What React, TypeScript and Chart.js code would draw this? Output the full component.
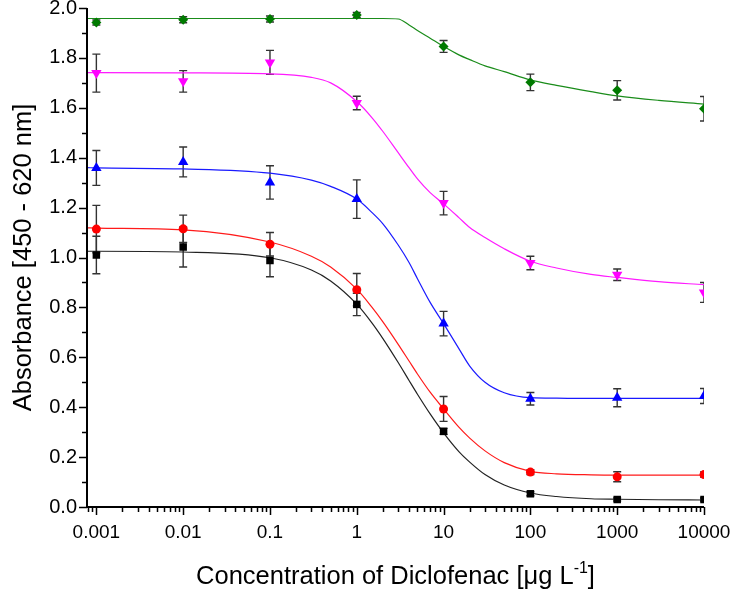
import React, { useEffect, useRef } from 'react';
import { Chart, registerables } from 'chart.js';

Chart.register(...registerables);

// ---------- data ----------
const concentrations = [0.001, 0.01, 0.1, 1, 10, 100, 1000, 10000];

const blackValues = [1.01, 1.042, 0.988, 0.812, 0.303, 0.053, 0.03, 0.03];
const blackErrors = [0.075, 0.08, 0.065, 0.045, 0.012, 0.008, 0.006, 0.006];
const redValues = [1.114, 1.115, 1.053, 0.871, 0.393, 0.14, 0.121, 0.13];
const redErrors = [0.095, 0.055, 0.047, 0.065, 0.05, 0.01, 0.02, 0.01];
const blueValues = [1.359, 1.383, 1.301, 1.234, 0.735, 0.434, 0.438, 0.445];
const blueErrors = [0.07, 0.06, 0.067, 0.077, 0.049, 0.025, 0.036, 0.03];
const magentaValues = [1.739, 1.706, 1.782, 1.619, 1.218, 0.978, 0.931, 0.86];
const magentaErrors = [0.076, 0.043, 0.048, 0.027, 0.047, 0.027, 0.023, 0.04];
const greenValues = [1.942, 1.953, 1.956, 1.972, 1.846, 1.702, 1.67, 1.596];
const greenErrors = [0.01, 0.012, 0.012, 0.01, 0.024, 0.033, 0.039, 0.049];

// fitted curves
const fitX = [0.00078, 0.001, 0.01, 0.1, 0.3, 0.5, 1, 1.5, 2, 3, 4, 5, 7, 10, 15, 20, 30, 50, 100, 200, 500, 1000, 3000, 10000];
const blackFit = [1.025, 1.025, 1.022, 0.999, 0.95, 0.906, 0.813, 0.737, 0.675, 0.579, 0.507, 0.452, 0.373, 0.297, 0.222, 0.18, 0.13, 0.088, 0.056, 0.042, 0.033, 0.031, 0.029, 0.028];
const redFit = [1.119, 1.118, 1.111, 1.062, 1.005, 0.962, 0.873, 0.8, 0.742, 0.652, 0.585, 0.533, 0.46, 0.393, 0.32, 0.276, 0.225, 0.178, 0.143, 0.133, 0.129, 0.128, 0.128, 0.128];
const blueFit = [1.36, 1.359, 1.355, 1.338, 1.31, 1.285, 1.234, 1.18, 1.135, 1.05, 0.98, 0.915, 0.82, 0.735, 0.635, 0.565, 0.5, 0.458, 0.438, 0.436, 0.435, 0.435, 0.435, 0.435];
const magentaFit = [1.741, 1.741, 1.74, 1.736, 1.722, 1.7, 1.625, 1.56, 1.505, 1.42, 1.36, 1.315, 1.26, 1.215, 1.16, 1.12, 1.08, 1.035, 0.985, 0.958, 0.932, 0.92, 0.903, 0.891];
const greenFit = [1.958, 1.958, 1.958, 1.958, 1.958, 1.958, 1.958, 1.958, 1.958, 1.956, 1.932, 1.91, 1.879, 1.846, 1.812, 1.793, 1.768, 1.745, 1.712, 1.69, 1.665, 1.648, 1.63, 1.615];

const xTickValues = [0.001, 0.01, 0.1, 1, 10, 100, 1000, 10000];
const xTickLabels = ['0.001', '0.01', '0.1', '1', '10', '100', '1000', '10000'];
const yMin = 0;
const yMax = 2;
const xMin = 0.00078;
const xMax = 10000;

const xTitle = 'Concentration of Diclofenac [μg L';
const xTitleSup = '-1';
const xTitleEnd = ']';
const yTitle = 'Absorbance [450 - 620 nm]';

const FONT = '"Liberation Sans", Arial, Helvetica, sans-serif';

const series = [
  { name: 'black', values: blackValues, errors: blackErrors, fit: blackFit, color: '#000000', line: '#222222', style: 'rect', radius: 5.3, rotation: 0 },
  { name: 'red', values: redValues, errors: redErrors, fit: redFit, color: '#ff0000', line: '#ff1a1a', style: 'circle', radius: 4.5, rotation: 0 },
  { name: 'blue', values: blueValues, errors: blueErrors, fit: blueFit, color: '#0000ff', line: '#1a1aff', style: 'triangle', radius: 6, rotation: 0 },
  { name: 'magenta', values: magentaValues, errors: magentaErrors, fit: magentaFit, color: '#ff00ff', line: '#ff1aff', style: 'triangle', radius: 6, rotation: 180 },
  { name: 'green', values: greenValues, errors: greenErrors, fit: greenFit, color: '#007a00', line: '#1a8c1a', style: 'rectRot', radius: 5, rotation: 0 },
];

const errorBarPlugin = {
  id: 'errorBars',
  beforeDatasetsDraw(chart: any) {
    const { ctx, chartArea, scales } = chart;
    const xs = scales.x;
    const ys = scales.y;
    ctx.save();
    ctx.beginPath();
    ctx.rect(chartArea.left, chartArea.top - 2, chartArea.right - chartArea.left, chartArea.bottom - chartArea.top + 2);
    ctx.clip();
    ctx.strokeStyle = '#333333';
    ctx.lineWidth = 1.4;
    const cap = 4;
    series.forEach((s) => {
      concentrations.forEach((c, i) => {
        const px = xs.getPixelForValue(c);
        const top = ys.getPixelForValue(s.values[i] + s.errors[i]);
        const bot = ys.getPixelForValue(s.values[i] - s.errors[i]);
        ctx.beginPath();
        ctx.moveTo(px, top);
        ctx.lineTo(px, bot);
        ctx.moveTo(px - cap, top);
        ctx.lineTo(px + cap, top);
        ctx.moveTo(px - cap, bot);
        ctx.lineTo(px + cap, bot);
        ctx.stroke();
      });
    });
    ctx.restore();
  },
};

const axesPlugin = {
  id: 'axesDraw',
  afterDraw(chart: any) {
    const { ctx, chartArea, scales } = chart;
    const xs = scales.x;
    const ys = scales.y;
    const L = chartArea.left;
    const B = chartArea.bottom;
    ctx.save();
    ctx.strokeStyle = '#000';
    ctx.lineWidth = 2;
    ctx.beginPath();
    ctx.moveTo(L, chartArea.top);
    ctx.lineTo(L, B + 1);
    ctx.moveTo(L - 1, B);
    ctx.lineTo(chartArea.right, B);
    ctx.stroke();
    ctx.lineWidth = 1.5;
    // y ticks
    ctx.beginPath();
    for (let k = 0; k <= 20; k++) {
      const v = yMin + (k * (yMax - yMin)) / 20;
      const py = Math.round(ys.getPixelForValue(v)) + 0.5;
      const len = k % 2 === 0 ? 8 : 5;
      ctx.moveTo(L, py);
      ctx.lineTo(L - len, py);
    }
    ctx.stroke();
    // x ticks
    ctx.beginPath();
    for (let e = -4; e <= 4; e++) {
      for (let m = 1; m <= 9; m++) {
        const v = m * Math.pow(10, e);
        if (v < xMin * 0.999 || v > xMax * 1.001) continue;
        const px = Math.round(xs.getPixelForValue(v)) + 0.5;
        const len = m === 1 ? 8 : 5;
        ctx.moveTo(px, B);
        ctx.lineTo(px, B + len);
      }
    }
    ctx.stroke();

    // axis titles
    ctx.fillStyle = '#000';
    const tSize = 25.5;
    ctx.font = `${tSize}px ${FONT}`;
    ctx.textBaseline = 'alphabetic';
    const supSize = Math.round(tSize * 0.62);
    const w1 = ctx.measureText(xTitle).width;
    ctx.font = `${supSize}px ${FONT}`;
    const w2 = ctx.measureText(xTitleSup).width;
    ctx.font = `${tSize}px ${FONT}`;
    const w3 = ctx.measureText(xTitleEnd).width;
    const total = w1 + w2 + w3;
    const cx = (chartArea.left + chartArea.right) / 2;
    const baseY = 584;
    const x0 = cx - total / 2;
    ctx.textAlign = 'left';
    ctx.fillText(xTitle, x0, baseY);
    ctx.font = `${supSize}px ${FONT}`;
    ctx.fillText(xTitleSup, x0 + w1, baseY - tSize * 0.42);
    ctx.font = `${tSize}px ${FONT}`;
    ctx.fillText(xTitleEnd, x0 + w1 + w2, baseY);

    ctx.save();
    ctx.translate(31, (chartArea.top + chartArea.bottom) / 2);
    ctx.rotate(-Math.PI / 2);
    ctx.textAlign = 'center';
    ctx.fillText(yTitle, 0, 0);
    ctx.restore();
    ctx.restore();
  },
};

function zeroPadding(scale: any) {
  scale.paddingTop = 0;
  scale.paddingBottom = 0;
  scale.paddingLeft = 0;
  scale.paddingRight = 0;
}

export default function App() {
  const ref = useRef<HTMLCanvasElement>(null);
  useEffect(() => {
    document.body.style.margin = '0';
    const canvas = ref.current!;
    const markerSets = series.map((s) => ({
      type: 'scatter' as const,
      label: s.name,
      data: concentrations.map((c, i) => ({ x: c, y: s.values[i] })),
      showLine: false,
      pointStyle: s.style,
      pointRadius: s.radius,
      pointRotation: s.rotation,
      backgroundColor: s.color,
      borderColor: s.color,
      borderWidth: 0,
      clip: 0,
    }));
    const fitSets = series.map((s) => ({
      type: 'scatter' as const,
      label: s.name + ' fit',
      data: fitX.map((x, i) => ({ x, y: s.fit[i] })),
      showLine: true,
      pointRadius: 0,
      borderColor: s.line,
      backgroundColor: s.line,
      borderWidth: 1.2,
      cubicInterpolationMode: 'monotone',
      clip: 0,
    }));
    const chart = new Chart(canvas, {
      type: 'scatter',
      data: { datasets: [...markerSets, ...fitSets] as any },
      options: {
        responsive: false,
        animation: false,
        devicePixelRatio: 1,
        layout: { autoPadding: false, padding: { left: 0, right: 29, top: 8, bottom: 0 } },
        plugins: { legend: { display: false }, tooltip: { enabled: false } },
        scales: {
          x: {
            type: 'logarithmic',
            min: xMin,
            max: xMax,
            grid: { display: false, drawTicks: false },
            border: { display: false },
            afterBuildTicks: (scale: any) => {
              scale.ticks = xTickValues.map((v) => ({ value: v }));
            },
            afterFit: (scale: any) => {
              scale.height = 82;
              zeroPadding(scale);
            },
            ticks: {
              autoSkip: false,
              maxRotation: 0,
              padding: 14,
              color: '#000',
              font: { family: FONT, size: 19 },
              callback: (v: any) => {
                const idx = xTickValues.findIndex((t) => Math.abs(t - Number(v)) / t < 1e-6);
                return idx >= 0 ? xTickLabels[idx] : '';
              },
            },
          },
          y: {
            type: 'linear',
            min: yMin,
            max: yMax,
            grid: { display: false, drawTicks: false },
            border: { display: false },
            afterFit: (scale: any) => {
              scale.width = 87;
              zeroPadding(scale);
            },
            ticks: {
              stepSize: 0.2,
              padding: 10,
              color: '#000',
              font: { family: FONT, size: 20 },
              callback: (v: any) => Number(v).toFixed(1),
            },
          },
        },
      },
      plugins: [errorBarPlugin, axesPlugin],
    } as any);
    return () => chart.destroy();
  }, []);
  return (
    <div style={{ width: 733, height: 589 }}>
      <canvas ref={ref} width={733} height={589} style={{ display: 'block' }} />
    </div>
  );
}
